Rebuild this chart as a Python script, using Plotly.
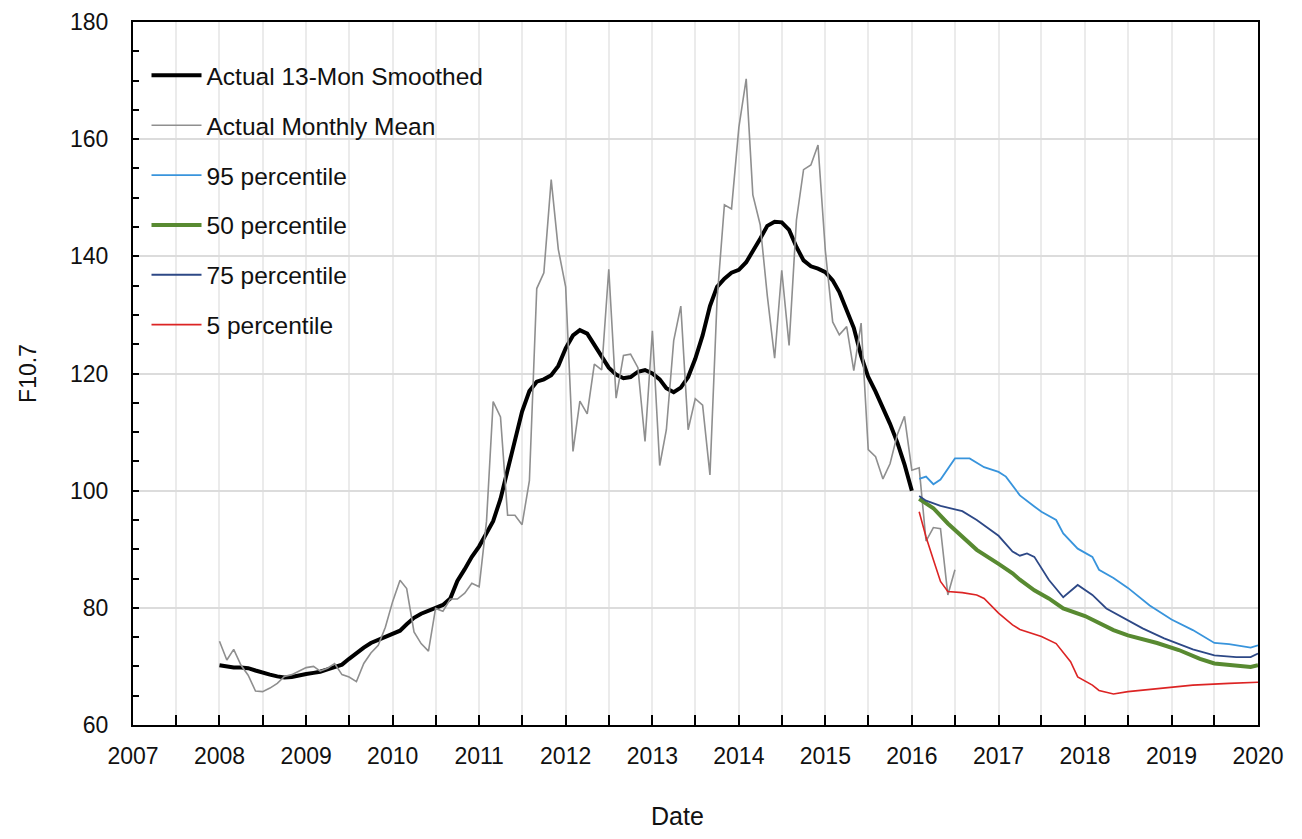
import pandas as pd
import plotly.graph_objects as go

# ---------------- data ----------------
monthly_start = "2008-01-01"
monthly_mean = [
    74.3, 71.1, 72.9, 70.2, 68.5, 65.8, 65.7, 66.3, 67.1, 68.3, 68.6, 69.2,
    69.8, 70.0, 69.2, 69.7, 70.5, 68.6, 68.2, 67.4, 70.5, 72.3, 73.6, 76.7,
    81.1, 84.7, 83.3, 75.9, 73.9, 72.6, 79.9, 79.4, 81.5, 81.5, 82.5, 84.2,
    83.6, 94.8, 115.2, 112.6, 95.8, 95.8, 94.2, 101.7, 134.5, 137.2, 153.1, 141.2,
    134.8, 106.7, 115.3, 113.1, 121.6, 120.6, 137.8, 115.8, 123.1, 123.3, 121.0, 108.4,
    127.3, 104.3, 110.4, 125.6, 131.5, 110.4, 115.7, 114.6, 102.7, 132.6, 148.8, 148.1,
    162.0, 170.3, 150.5, 145.4, 133.3, 122.6, 137.6, 124.8, 146.2, 154.8, 155.6, 159.0,
    141.0, 128.8, 126.6, 128.0, 120.5, 128.6, 107.0, 105.8, 102.0, 104.6, 109.6, 112.7,
    103.5, 103.9, 91.4, 93.7, 93.5, 82.2, 86.5,
]
smoothed = [
    70.2, 70.0, 69.8, 69.8, 69.7, 69.3, 68.9, 68.6, 68.3, 68.1, 68.2, 68.5,
    68.7, 68.9, 69.1, 69.5, 69.9, 70.3, 71.3, 72.3, 73.2, 74.0, 74.5, 75.0,
    75.6, 76.1, 77.2, 78.3, 79.0, 79.5, 80.0, 80.5, 81.6, 84.6, 86.6, 88.7,
    90.5, 92.6, 94.8, 98.6, 103.5, 109.0, 113.5, 117.0, 118.6, 119.0, 119.7, 121.3,
    124.3, 126.5, 127.4, 126.8, 124.9, 122.9, 121.0, 119.8, 119.2, 119.4, 120.3, 120.6,
    120.0, 119.0, 117.5, 116.8, 117.6, 119.4, 122.5, 126.5, 131.5, 134.8, 136.2, 137.2,
    137.7, 139.0, 140.8, 143.0, 145.2, 145.9, 145.8, 144.5, 141.6, 139.3, 138.3, 137.9,
    137.3, 135.9, 133.9, 131.0, 127.8, 123.0, 119.4, 116.9, 114.2, 111.4, 108.2, 104.5,
    100.0,
]

p95_dates = ["2016-02", "2016-03", "2016-04", "2016-05", "2016-07", "2016-09", "2016-11",
             "2017-01", "2017-02", "2017-04", "2017-06", "2017-07", "2017-09", "2017-10",
             "2017-12", "2018-02", "2018-03", "2018-05", "2018-07", "2018-10", "2019-01",
             "2019-04", "2019-07", "2019-09", "2019-12", "2020-01"]
p95_vals = [102.0, 102.4, 101.1, 101.9, 105.5, 105.5, 104.0,
            103.2, 102.4, 99.2, 97.3, 96.4, 95.0, 92.7,
            90.1, 88.7, 86.5, 85.1, 83.4, 80.4, 78.0,
            76.2, 74.0, 73.8, 73.2, 73.6]

p50_dates = ["2016-02", "2016-04", "2016-06", "2016-10", "2017-01", "2017-03", "2017-04",
             "2017-06", "2017-08", "2017-10", "2018-01", "2018-03", "2018-05", "2018-07",
             "2018-11", "2019-02", "2019-05", "2019-07", "2019-09", "2019-12", "2020-01"]
p50_vals = [98.6, 97.0, 94.4, 89.9, 87.5, 85.9, 84.8,
            83.0, 81.6, 79.9, 78.6, 77.5, 76.2, 75.3,
            74.0, 72.8, 71.3, 70.5, 70.2, 69.9, 70.2]

p75_dates = ["2016-02", "2016-03", "2016-05", "2016-08", "2016-10", "2017-01", "2017-03",
             "2017-04", "2017-05", "2017-06", "2017-08", "2017-10", "2017-12", "2018-02",
             "2018-04", "2018-06", "2018-09", "2018-12", "2019-04", "2019-07", "2019-10",
             "2019-12", "2020-01"]
p75_vals = [99.1, 98.3, 97.4, 96.5, 95.0, 92.3, 89.6,
            88.9, 89.3, 88.7, 84.8, 81.8, 83.9, 82.2,
            79.9, 78.5, 76.5, 74.8, 72.9, 71.9, 71.6,
            71.6, 72.2]

p5_dates = ["2016-02", "2016-03", "2016-04", "2016-05", "2016-06", "2016-08", "2016-10",
            "2016-11", "2017-01", "2017-03", "2017-04", "2017-07", "2017-09", "2017-11",
            "2017-12", "2018-02", "2018-03", "2018-05", "2018-07", "2018-10", "2019-01",
            "2019-04", "2019-09", "2019-11", "2020-01"]
p5_vals = [96.4, 92.1, 88.2, 84.5, 82.8, 82.6, 82.2,
           81.6, 79.1, 77.1, 76.3, 75.1, 73.9, 70.8,
           68.2, 66.8, 65.9, 65.3, 65.7, 66.1, 66.5,
           66.8, 67.1, 67.2, 67.3]

year_range = ["2007-01-01", "2020-01-01"]
y_range = [60, 180]

# ---------------- figure ----------------
FONT = "Liberation Sans, Arial, sans-serif"
months_mean = pd.date_range(monthly_start, periods=len(monthly_mean), freq="MS")
months_smooth = pd.date_range(monthly_start, periods=len(smoothed), freq="MS")

series = [
    ("Actual 13-Mon Smoothed", months_smooth, smoothed, "#000000", 4),
    ("Actual Monthly Mean", months_mean, monthly_mean, "#8f8f8f", 1.6),
    ("95 percentile", pd.to_datetime(p95_dates), p95_vals, "#3894dc", 1.8),
    ("50 percentile", pd.to_datetime(p50_dates), p50_vals, "#588a31", 4),
    ("75 percentile", pd.to_datetime(p75_dates), p75_vals, "#2d4886", 1.8),
    ("5 percentile", pd.to_datetime(p5_dates), p5_vals, "#dc2424", 1.6),
]

fig = go.Figure()
for i, (name, x, y, color, w) in enumerate(series):
    fig.add_trace(go.Scatter(
        x=x, y=y, mode="lines", name=name,
        legendgroup=f"g{i}",
        line=dict(color=color, width=w),
    ))

# page body adds an 8px margin; figure sized so the plot box lands at 133..1258 x 22..725
fig.update_layout(
    width=1286, height=823,
    margin=dict(l=125, r=36, t=14, b=106, autoexpand=False),
    paper_bgcolor="white", plot_bgcolor="white",
    font=dict(family=FONT, size=23, color="#111111"),
    showlegend=True,
    legend=dict(
        x=0.012, y=0.956, xanchor="left", yanchor="top",
        bgcolor="rgba(0,0,0,0)", borderwidth=0,
        font=dict(family=FONT, size=24.5, color="#111111"),
        traceorder="grouped", tracegroupgap=15,
        itemwidth=50,
    ),
    xaxis=dict(
        type="date", range=year_range, automargin=False,
        dtick="M12", tick0="2007-01-01", tickformat="%Y",
        ticks="inside", ticklen=10, tickwidth=2, tickcolor="black",
        showline=True, linecolor="black", linewidth=2, mirror=True,
        showgrid=True, gridcolor="#ebebeb", gridwidth=1.5,
        minor=dict(dtick="M6", ticks="inside", ticklen=10, tickwidth=2,
                   tickcolor="black", showgrid=True, gridcolor="#ebebeb", gridwidth=1.5),
        tickfont=dict(size=23),
        ticklabelstandoff=9,
        zeroline=False,
    ),
    yaxis=dict(
        range=y_range, dtick=20, tick0=60, automargin=False,
        ticks="inside", ticklen=6, tickwidth=2, tickcolor="black",
        showline=True, linecolor="black", linewidth=2, mirror=True,
        showgrid=True, gridcolor="#dcdcdc", gridwidth=1.5,
        minor=dict(dtick=5, ticks="inside", ticklen=6, tickwidth=2,
                   tickcolor="black", showgrid=False),
        tickfont=dict(size=23),
        ticklabelstandoff=18,
        title=dict(text="F10.7", font=dict(size=23), standoff=27),
        zeroline=False,
    ),
    annotations=[dict(
        text="Date", xref="paper", yref="paper",
        x=0.4844, y=-0.129, xanchor="center", yanchor="middle",
        showarrow=False, font=dict(family=FONT, size=25, color="#111111"),
    )],
)

fig.write_html("out.html")
